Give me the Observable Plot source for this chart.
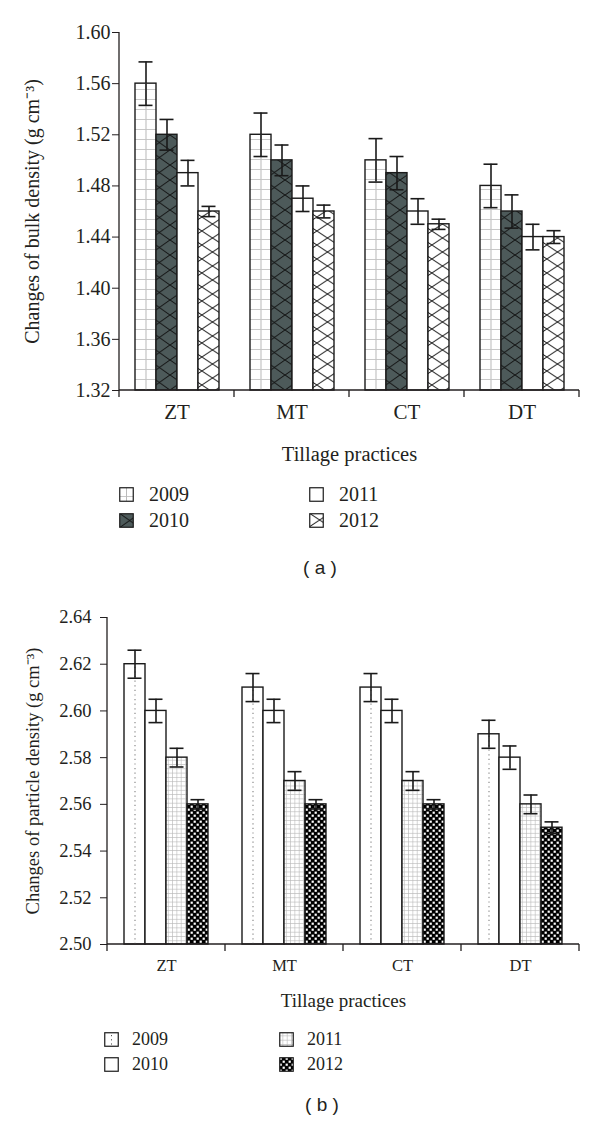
<!DOCTYPE html>
<html>
<head>
<meta charset="utf-8">
<script src="https://cdn.jsdelivr.net/npm/d3@7"></script>
<script src="https://cdn.jsdelivr.net/npm/@observablehq/plot@0.6"></script>
<style>
  body { margin: 0; background: #fff; }
  #root { position: relative; width: 600px; height: 1126px; overflow: hidden; font-family: "Liberation Serif", "Times New Roman", serif; color: #231f20; }
  .plot { position: absolute; left: 0; }
  .leg { position: absolute; display: flex; align-items: center; white-space: nowrap; }
  .leg svg { display: block; }
  .cap { position: absolute; font-family: "Liberation Sans", Arial, sans-serif; transform: translate(-50%, -50%); white-space: pre; }
</style>
</head>
<body>
<div id="root">
<svg width="0" height="0" style="position:absolute;left:0;top:0">
  <defs>
    <pattern id="pa2009" patternUnits="userSpaceOnUse" width="10" height="10">
      <rect width="10" height="10" fill="#fff"/>
      <path d="M0 9.5H10" stroke="#c8c8c8" stroke-width="1"/>
    </pattern>
    <pattern id="pa2010" patternUnits="userSpaceOnUse" width="21.25" height="15">
      <rect width="21.25" height="15" fill="#4d5a5a"/>
      <path d="M0 0L21.25 15M21.25 0L0 15" stroke="#111" stroke-width="1"/>
    </pattern>
    <pattern id="pa2012" patternUnits="userSpaceOnUse" width="21.25" height="14">
      <rect width="21.25" height="14" fill="#fff"/>
      <path d="M0 0L21.25 14M21.25 0L0 14" stroke="#111" stroke-width="1"/>
    </pattern>
    <pattern id="pb2011" patternUnits="userSpaceOnUse" width="4.3" height="4.3">
      <rect width="4.3" height="4.3" fill="#fff"/>
      <path d="M0 4H4.3M4 0V4.3" stroke="#b8b8b8" stroke-width="0.7"/>
    </pattern>
    <pattern id="pb2012" patternUnits="userSpaceOnUse" width="6" height="6">
      <rect width="6" height="6" fill="#000"/>
      <rect x="0.6" y="0.6" width="2.2" height="2.2" fill="#fff"/>
      <rect x="3.6" y="3.6" width="2.2" height="2.2" fill="#fff"/>
    </pattern>
  </defs>
</svg>
</div>
<script>
// ---------- data ----------
const categories = ["ZT", "MT", "CT", "DT"];
const years = ["2009", "2010", "2011", "2012"];

// (a) bulk density, one array per year (ZT, MT, CT, DT)
const bulk2009 = [1.56, 1.52, 1.50, 1.48];
const bulk2010 = [1.52, 1.50, 1.49, 1.46];
const bulk2011 = [1.49, 1.47, 1.46, 1.44];
const bulk2012 = [1.46, 1.46, 1.45, 1.44];
const bulkErr2009 = [0.017, 0.017, 0.017, 0.017];
const bulkErr2010 = [0.012, 0.012, 0.013, 0.013];
const bulkErr2011 = [0.010, 0.010, 0.010, 0.010];
const bulkErr2012 = [0.004, 0.005, 0.004, 0.005];
const bulkTicks = [1.32, 1.36, 1.40, 1.44, 1.48, 1.52, 1.56, 1.60];

// (b) particle density
const particle2009 = [2.62, 2.61, 2.61, 2.59];
const particle2010 = [2.60, 2.60, 2.60, 2.58];
const particle2011 = [2.58, 2.57, 2.57, 2.56];
const particle2012 = [2.56, 2.56, 2.56, 2.55];
const particleErr2009 = [0.006, 0.006, 0.006, 0.006];
const particleErr2010 = [0.005, 0.005, 0.005, 0.005];
const particleErr2011 = [0.004, 0.004, 0.004, 0.004];
const particleErr2012 = [0.002, 0.002, 0.002, 0.0025];
const particleTicks = [2.50, 2.52, 2.54, 2.56, 2.58, 2.60, 2.62, 2.64];

const xLabel = "Tillage practices";
const bulkLabel = "Changes of bulk density (g cm\u207B\u00B3)";
const particleLabel = "Changes of particle density (g cm\u207B\u00B3)";

// fills (styles)
const fillsA = ["url(#pa2009)", "url(#pa2010)", "#fff", "url(#pa2012)"];
const fillsB = ["#fff", "#fff", "url(#pb2011)", "url(#pb2012)"];

function buildRows(means, errs) {
  return categories.flatMap((c, i) => years.map((y, j) => ({cat: c, year: y, yi: j, v: means[j][i], e: errs[j][i]})));
}
const rowsA = buildRows([bulk2009, bulk2010, bulk2011, bulk2012], [bulkErr2009, bulkErr2010, bulkErr2011, bulkErr2012]);
const rowsB = buildRows([particle2009, particle2010, particle2011, particle2012], [particleErr2009, particleErr2010, particleErr2011, particleErr2012]);

const ink = "#231f20";

function makePlot(o) {
  const base = o.ticks[0], top = o.ticks[o.ticks.length - 1];
  const plot = Plot.plot({
    width: 600, height: o.height,
    marginTop: o.mt, marginBottom: o.mb, marginLeft: o.ml, marginRight: o.mr,
    fx: {domain: categories, paddingInner: 0, paddingOuter: 0},
    x: {domain: years, paddingInner: 0, paddingOuter: 0.72, axis: null},
    y: {domain: [base, top]},
    color: {type: "identity"},
    style: {fontFamily: '"Liberation Serif", "Times New Roman", serif', fontSize: o.fs + "px", color: ink, background: "transparent"},
    marks: [
      Plot.barY(o.rows, {fx: "cat", x: "year", y1: base, y2: "v", fill: d => o.fills[d.yi], stroke: "#1a1a1a", strokeWidth: 1.4}),
      Plot.ruleX(o.rows.filter(d => d.yi === 0), {fx: "cat", x: "year", y1: base, y2: "v", stroke: o.centerStroke, strokeWidth: o.centerWidth, strokeDasharray: o.centerDash}),
      Plot.ruleX(o.rows, {fx: "cat", x: "year", y1: d => d.v - d.e, y2: d => d.v + d.e, stroke: "#1a1a1a", strokeWidth: 1.6}),
      Plot.tickY(o.rows, {fx: "cat", x: "year", y: d => d.v + d.e, insetLeft: 3.5, insetRight: 3.5, stroke: "#1a1a1a", strokeWidth: 1.6}),
      Plot.tickY(o.rows, {fx: "cat", x: "year", y: d => d.v - d.e, insetLeft: 3.5, insetRight: 3.5, stroke: "#1a1a1a", strokeWidth: 1.6}),
      Plot.axisY({ticks: o.ticks, tickFormat: d3.format(".2f"), tickSize: 7, tickPadding: o.tp, label: null, fontSize: o.fs, stroke: ink}),
      Plot.axisY({ticks: [], label: o.ylabel, labelAnchor: "center", labelOffset: o.ylo, labelArrow: "none", fontSize: o.yfs}),
      Plot.axisFx({anchor: "bottom", tickSize: 0, tickPadding: o.fxtp, fontSize: o.fxfs, label: null}),
      Plot.axisFx({anchor: "bottom", ticks: [], label: xLabel, labelAnchor: "center", labelOffset: o.xlo, labelArrow: "none", fontSize: o.xfs})
    ]
  });
  // axis lines & boundary ticks from the library's scales
  const fx = plot.scale("fx"), y = plot.scale("y");
  const step = fx.apply(categories[1]) - fx.apply(categories[0]);
  const edges = categories.map(c => fx.apply(c)).concat([fx.apply(categories[categories.length - 1]) + step]);
  const y0 = y.apply(base), y1 = y.apply(top);
  const g = d3.select(plot).append("g").attr("stroke", ink).attr("stroke-width", 1.3).attr("fill", "none");
  g.append("line").attr("x1", edges[0]).attr("x2", edges[0]).attr("y1", y0).attr("y2", y1);
  g.append("line").attr("x1", edges[0]).attr("x2", edges[edges.length - 1]).attr("y1", y0).attr("y2", y0);
  edges.forEach(e => g.append("line").attr("x1", e).attr("x2", e).attr("y1", y0).attr("y2", y0 + 7));
  plot.classList.add("plot");
  plot.style.top = o.top + "px";
  return plot;
}

const root = document.getElementById("root");
root.appendChild(makePlot({
  rows: rowsA, fills: fillsA, ticks: bulkTicks, ylabel: bulkLabel,
  top: 0, height: 470, mt: 32, mb: 80, ml: 119, mr: 21,
  fs: 20, yfs: 20, fxfs: 21, xfs: 20.5, tp: 2, ylo: 95, fxtp: 14, xlo: 70,
  centerStroke: "#c4c4c4", centerWidth: 1.2, centerDash: null
}));
root.appendChild(makePlot({
  rows: rowsB, fills: fillsB, ticks: particleTicks, ylabel: particleLabel,
  top: 580, height: 432, mt: 37, mb: 68, ml: 106, mr: 21,
  fs: 18.5, yfs: 18.5, fxfs: 16.5, xfs: 19, tp: 9, ylo: 82, fxtp: 15, xlo: 62,
  centerStroke: "#8a8a8a", centerWidth: 1.2, centerDash: "1.2,3.4"
}));

// ---------- legends ----------
function icon(fill, extra) {
  const s = d3.create("svg").attr("width", 15).attr("height", 15);
  s.append("rect").attr("x", 0.75).attr("y", 0.75).attr("width", 13.5).attr("height", 13.5).attr("fill", fill);
  if (extra) extra(s);
  s.append("rect").attr("x", 0.75).attr("y", 0.75).attr("width", 13.5).attr("height", 13.5).attr("fill", "none").attr("stroke", "#1a1a1a").attr("stroke-width", 1.2);
  return s.node();
}
function legendItem(x, yc, fill, text, fs, gap, extra) {
  const d = document.createElement("div");
  d.className = "leg";
  d.style.left = x + "px";
  d.style.top = (yc - 10) + "px";
  d.style.height = "20px";
  d.style.fontSize = fs + "px";
  d.appendChild(icon(fill, extra));
  const t = document.createElement("span");
  t.textContent = text;
  t.style.marginLeft = gap + "px";
  d.appendChild(t);
  root.appendChild(d);
}
const centerGray = s => s.append("line").attr("x1", 7.5).attr("x2", 7.5).attr("y1", 1).attr("y2", 14).attr("stroke", "#bbb");
const centerDots = s => s.append("line").attr("x1", 7.5).attr("x2", 7.5).attr("y1", 3).attr("y2", 13).attr("stroke", "#555").attr("stroke-dasharray", "1.2,3");

// legend (a)
legendItem(119, 494, fillsA[0], years[0], 20, 15, centerGray);
legendItem(119, 520, fillsA[1], years[1], 20, 15);
legendItem(309, 494, fillsA[2], years[2], 20, 15);
legendItem(309, 520, fillsA[3], years[3], 20, 15);
// legend (b)
legendItem(104, 1039, fillsB[0], years[0], 18, 13, centerDots);
legendItem(104, 1064, fillsB[1], years[1], 18, 13);
legendItem(279, 1039, fillsB[2], years[2], 18, 13);
legendItem(279, 1064, fillsB[3], years[3], 18, 13);

// captions
function caption(text, x, y, fs) {
  const d = document.createElement("div");
  d.className = "cap";
  d.textContent = text;
  d.style.left = x + "px";
  d.style.top = y + "px";
  d.style.fontSize = fs + "px";
  root.appendChild(d);
}
caption("( a )", 320, 568, 19);
caption("( b )", 322, 1105, 19);
</script>
</body>
</html>
